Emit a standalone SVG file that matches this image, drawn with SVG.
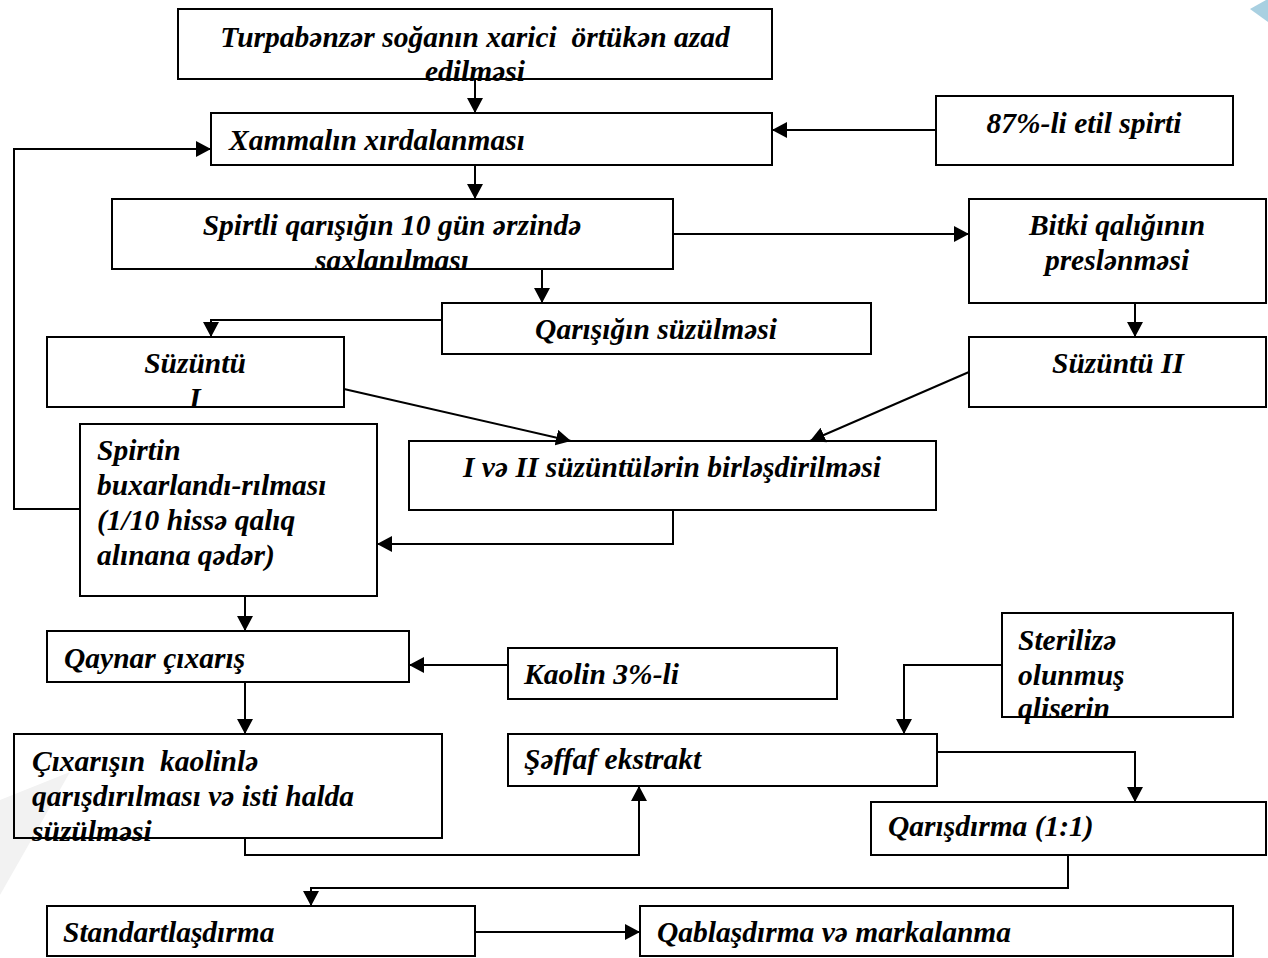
<svg xmlns="http://www.w3.org/2000/svg" width="1268" height="958" viewBox="0 0 1268 958">
  <style>
    .box { fill: none; stroke: #000; stroke-width: 2; }
    .t { font-family: "Liberation Serif", "Times New Roman", serif; font-size: 29.5px; font-weight: bold; font-style: italic; fill: #000; white-space: pre; }
    .c { text-anchor: middle; }
    .wire { fill: none; stroke: #000; stroke-width: 2; marker-end: url(#head); }
  </style>
  <defs>
    <marker id="head" markerUnits="userSpaceOnUse" markerWidth="15" markerHeight="16" refX="15" refY="8" orient="auto">
      <path d="M0,0 L15,8 L0,16 z" fill="#000"/>
    </marker>
  </defs>

  <rect width="1268" height="958" fill="#fff"/>
  <!-- faint page decorations -->
  <polygon points="0,800 70,772 0,895" fill="#f2f2f2"/>
  <polygon points="1250,9 1266,0 1268,0 1268,22" fill="#a9d0e1"/>

  <g id="connectors">
    <path class="wire" d="M475,79 V113"/>
    <path class="wire" d="M936,130 H772"/>
    <path class="wire" d="M80,509 H14 V149 H211"/>
    <path class="wire" d="M475,165 V199"/>
    <path class="wire" d="M673,234 H969"/>
    <path class="wire" d="M542,269 V303"/>
    <path class="wire" d="M442,320 H211 V337"/>
    <path class="wire" d="M344,389 L571,441"/>
    <path class="wire" d="M1135,303 V337"/>
    <path class="wire" d="M969,372 L810,441"/>
    <path class="wire" d="M673,510 V544 H377"/>
    <path class="wire" d="M245,596 V631"/>
    <path class="wire" d="M508,665 H409"/>
    <path class="wire" d="M245,682 V734"/>
    <path class="wire" d="M245,838 V855 H639 V786"/>
    <path class="wire" d="M1002,665 H904 V734"/>
    <path class="wire" d="M937,752 H1135 V802"/>
    <path class="wire" d="M1068,855 V888 H311 V906"/>
    <path class="wire" d="M475,932 H640"/>
  </g>

  <g id="n1">
    <rect class="box" x="178" y="9" width="594" height="70"/>
    <text class="t c" x="475" y="47">Turpabənzər soğanın xarici  örtükən azad</text>
    <text class="t c" x="475" y="81">edilməsi</text>
  </g>
  <g id="n2">
    <rect class="box" x="211" y="113" width="561" height="52"/>
    <text class="t" x="229" y="150">Xammalın xırdalanması</text>
  </g>
  <g id="n3">
    <rect class="box" x="936" y="96" width="297" height="69"/>
    <text class="t c" x="1084" y="133">87%-li etil spirti</text>
  </g>
  <g id="n4">
    <rect class="box" x="112" y="199" width="561" height="70"/>
    <text class="t c" x="392" y="235">Spirtli qarışığın 10 gün ərzində</text>
    <text class="t c" x="392" y="270">saxlanılması</text>
  </g>
  <g id="n5">
    <rect class="box" x="969" y="199" width="297" height="104"/>
    <text class="t c" x="1117" y="235">Bitki qalığının</text>
    <text class="t c" x="1117" y="270">preslənməsi</text>
  </g>
  <g id="n6">
    <rect class="box" x="442" y="303" width="429" height="51"/>
    <text class="t c" x="656" y="339">Qarışığın süzülməsi</text>
  </g>
  <g id="n7">
    <rect class="box" x="47" y="337" width="297" height="70"/>
    <text class="t c" x="195" y="373">Süzüntü</text>
    <text class="t c" x="195" y="408">I</text>
  </g>
  <g id="n8">
    <rect class="box" x="969" y="337" width="297" height="70"/>
    <text class="t c" x="1118" y="373">Süzüntü II</text>
  </g>
  <g id="n9">
    <rect class="box" x="409" y="441" width="527" height="69"/>
    <text class="t c" x="672" y="477">I və II süzüntülərin birləşdirilməsi</text>
  </g>
  <g id="n10">
    <rect class="box" x="80" y="424" width="297" height="172"/>
    <text class="t" x="97" y="460">Spirtin</text>
    <text class="t" x="97" y="495">buxarlandı-rılması</text>
    <text class="t" x="97" y="530">(1/10 hissə qalıq</text>
    <text class="t" x="97" y="565">alınana qədər)</text>
  </g>
  <g id="n11">
    <rect class="box" x="47" y="631" width="362" height="51"/>
    <text class="t" x="64" y="668">Qaynar çıxarış</text>
  </g>
  <g id="n12">
    <rect class="box" x="508" y="648" width="329" height="51"/>
    <text class="t" x="524" y="684">Kaolin 3%-li</text>
  </g>
  <g id="n13">
    <rect class="box" x="14" y="734" width="428" height="104"/>
    <text class="t" x="32" y="771">Çıxarışın  kaolinlə</text>
    <text class="t" x="32" y="806">qarışdırılması və isti halda</text>
    <text class="t" x="32" y="841">süzülməsi</text>
  </g>
  <g id="n14">
    <rect class="box" x="508" y="734" width="429" height="52"/>
    <text class="t" x="524" y="769">Şəffaf ekstrakt</text>
  </g>
  <g id="n15">
    <rect class="box" x="1002" y="613" width="231" height="104"/>
    <text class="t" x="1018" y="650">Sterilizə</text>
    <text class="t" x="1018" y="685">olunmuş</text>
    <text class="t" x="1018" y="718">qliserin</text>
  </g>
  <g id="n16">
    <rect class="box" x="871" y="802" width="395" height="53"/>
    <text class="t" x="888" y="836">Qarışdırma (1:1)</text>
  </g>
  <g id="n17">
    <rect class="box" x="47" y="906" width="428" height="50"/>
    <text class="t" x="63" y="942">Standartlaşdırma</text>
  </g>
  <g id="n18">
    <rect class="box" x="640" y="906" width="593" height="50"/>
    <text class="t" x="657" y="942">Qablaşdırma və markalanma</text>
  </g>
</svg>
